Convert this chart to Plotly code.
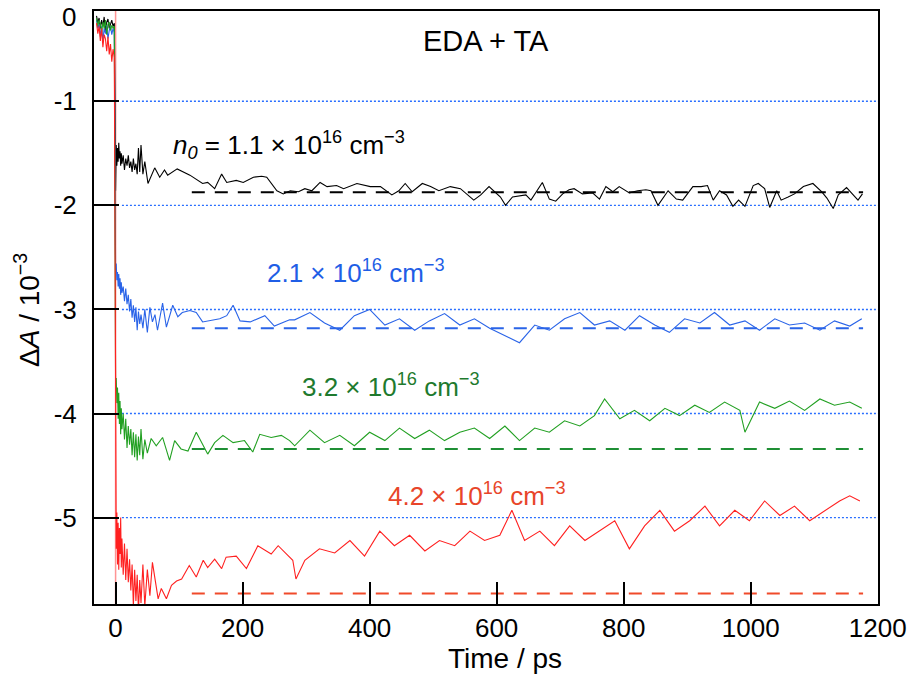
import plotly.graph_objects as go

# ---------------- data ----------------
t_pre = [-30, -28, -26, -24, -22, -20, -18, -16, -14, -12, -10, -8, -6, -4, -2]
t_dense = [0, 1, 2, 3, 4, 5, 6, 7, 8, 9, 10, 12, 14, 16, 18, 20, 22, 24, 26, 28, 30, 32, 34, 36, 38, 40, 43, 46]

black_pre = [-0.18, -0.25, -0.20, -0.30, -0.22, -0.28, -0.19, -0.33, -0.24, -0.21, -0.30, -0.26, -0.22, -0.28, -0.25]
blue_pre = [-0.22, -0.30, -0.26, -0.38, -0.28, -0.42, -0.30, -0.35, -0.27, -0.40, -0.32, -0.28, -0.36, -0.30, -0.34]
green_pre = [-0.20, -0.28, -0.22, -0.26, -0.34, -0.24, -0.30, -0.22, -0.36, -0.26, -0.24, -0.32, -0.27, -0.30, -0.28]
red_pre = [-0.25, -0.35, -0.28, -0.42, -0.30, -0.48, -0.36, -0.40, -0.52, -0.38, -0.55, -0.45, -0.62, -0.50, -0.58]

black_dense = [-1.86, -1.42, -1.62, -1.45, -1.58, -1.40, -1.55, -1.48, -1.62, -1.50, -1.60, -1.52, -1.66, -1.55,
               -1.62, -1.52, -1.64, -1.58, -1.68, -1.55, -1.66, -1.60, -1.70, -1.45, -1.68, -1.42, -1.70, -1.58]
blue_dense = [-2.62, -2.56, -2.72, -2.64, -2.78, -2.66, -2.80, -2.70, -2.86, -2.74, -2.84, -2.78, -2.92, -2.80,
              -2.95, -2.86, -3.02, -2.90, -3.08, -2.96, -3.12, -2.98, -3.20, -3.02, -3.14, -3.05, -3.18, -3.00]
green_dense = [-3.70, -3.66, -3.90, -3.75, -4.05, -3.80, -4.10, -3.88, -4.20, -3.95, -4.15, -4.00, -4.25, -4.05,
               -4.33, -4.12, -4.30, -4.15, -4.40, -4.18, -4.42, -4.20, -4.45, -4.22, -4.40, -4.15, -4.44, -4.25]
red_dense = [-4.72, -5.30, -4.95, -5.45, -5.05, -5.50, -5.10, -5.35, -5.00, -5.48, -5.20, -5.55, -5.25, -5.60,
             -5.30, -5.62, -5.40, -5.70, -5.45, -5.85, -5.50, -5.80, -5.55, -5.90, -5.60, -5.82, -5.45, -5.85]

black_t = [51, 61.6, 69.5, 77, 82, 97, 117, 137, 145, 156, 167, 175, 190, 201, 217, 230, 238, 254, 264, 275,
           288, 298, 309, 322, 333, 348, 359, 380, 401, 417, 435, 446, 456, 467, 483, 496, 509, 527, 543, 564,
           575, 588, 606, 614, 625, 638, 646, 654, 672, 683, 693, 704, 714, 722, 735, 751, 762, 772, 783, 793,
           809, 822, 835, 843, 854, 870, 883, 893, 909, 922, 932, 941, 951, 962, 972, 981, 991, 1004, 1012, 1022,
           1030, 1041, 1048, 1059, 1069, 1083, 1098, 1112, 1120, 1130, 1138, 1151, 1162, 1169, 1176]
black_v = [-1.79, -1.64, -1.73, -1.66, -1.71, -1.65, -1.71, -1.79, -1.78, -1.84, -1.70, -1.78, -1.76, -1.78, -1.73,
           -1.72, -1.73, -1.86, -1.89, -1.86, -1.87, -1.84, -1.86, -1.78, -1.82, -1.81, -1.84, -1.79, -1.82, -1.82,
           -1.90, -1.86, -1.79, -1.87, -1.79, -1.82, -1.86, -1.82, -1.84, -1.95, -1.90, -1.82, -1.92, -2.00, -1.92,
           -1.91, -1.90, -1.95, -1.78, -1.94, -1.96, -1.89, -1.85, -1.84, -1.89, -1.88, -1.94, -1.82, -1.87, -1.82,
           -1.88, -1.86, -1.85, -1.86, -2.00, -1.86, -1.94, -1.95, -1.82, -1.82, -1.81, -1.95, -1.86, -1.90, -2.01,
           -1.95, -2.01, -1.81, -1.79, -1.84, -2.02, -1.86, -1.95, -1.92, -1.89, -1.82, -1.79, -1.87, -1.93, -2.03,
           -1.90, -1.83, -1.91, -1.95, -1.89]

blue_t = [50, 54, 58, 62, 66, 74, 80, 90, 98, 105, 117, 127, 137, 164, 175, 185, 196, 212, 235, 250, 274, 282, 306,
          329, 353, 376, 400, 424, 447, 471, 494, 518, 542, 565, 589, 613, 636, 660, 683, 707, 731, 754, 778, 802,
          825, 849, 872, 896, 920, 943, 967, 991, 1014, 1038, 1061, 1085, 1109, 1132, 1156, 1175]
blue_v = [-3.22, -2.98, -3.12, -3.05, -3.20, -2.94, -3.17, -2.96, -3.07, -3.03, -3.01, -3.03, -3.12, -3.09, -3.06,
          -2.96, -3.11, -3.12, -3.06, -3.16, -3.10, -3.10, -3.03, -3.13, -3.20, -3.06, -3.00, -3.15, -3.09, -3.20,
          -3.11, -3.04, -3.15, -3.09, -3.18, -3.25, -3.32, -3.15, -3.20, -3.09, -3.03, -3.15, -3.11, -3.20, -3.06,
          -3.15, -3.22, -3.09, -3.13, -3.03, -3.15, -3.11, -3.20, -3.09, -3.15, -3.13, -3.20, -3.11, -3.16, -3.09]

green_t = [50, 56, 64, 74, 85, 93, 103, 114, 127, 145, 156, 169, 185, 203, 216, 227, 245, 261, 274, 282, 306, 329,
           353, 376, 400, 424, 447, 471, 494, 518, 542, 565, 589, 613, 636, 660, 683, 707, 731, 754, 770, 794, 817,
           841, 865, 888, 912, 935, 959, 983, 991, 1014, 1038, 1061, 1085, 1109, 1132, 1156, 1175]
green_v = [-4.38, -4.24, -4.31, -4.23, -4.45, -4.26, -4.34, -4.36, -4.18, -4.39, -4.28, -4.21, -4.28, -4.26, -4.37,
           -4.20, -4.23, -4.21, -4.26, -4.31, -4.16, -4.28, -4.21, -4.31, -4.18, -4.26, -4.14, -4.24, -4.16, -4.26,
           -4.18, -4.14, -4.24, -4.12, -4.26, -4.14, -4.18, -4.07, -4.12, -4.02, -3.86, -4.05, -3.97, -4.07, -3.95,
           -4.02, -3.92, -3.99, -3.89, -3.97, -4.18, -3.89, -3.95, -3.88, -3.97, -3.86, -3.92, -3.89, -3.95]

red_t = [50, 54, 58, 67, 72, 80, 88, 96, 104, 116, 127, 138, 145, 156, 167, 174, 190, 206, 224, 245, 256, 279, 284,
         298, 321, 345, 369, 392, 416, 439, 463, 487, 510, 534, 558, 581, 605, 624, 644, 668, 691, 715, 739, 762,
         786, 809, 833, 857, 880, 904, 928, 951, 975, 998, 1022, 1046, 1069, 1093, 1117, 1140, 1156, 1172]
red_v = [-5.50, -5.75, -5.43, -5.78, -5.68, -5.78, -5.65, -5.61, -5.59, -5.46, -5.57, -5.41, -5.48, -5.40, -5.49,
         -5.38, -5.37, -5.49, -5.27, -5.35, -5.27, -5.41, -5.59, -5.41, -5.30, -5.34, -5.22, -5.37, -5.13, -5.27,
         -5.17, -5.32, -5.22, -5.27, -5.13, -5.22, -5.17, -4.93, -5.22, -5.13, -5.27, -5.08, -5.22, -5.13, -5.03,
         -5.30, -5.08, -4.93, -5.13, -5.03, -4.89, -5.08, -4.93, -5.03, -4.84, -4.98, -4.89, -5.03, -4.93, -4.84,
         -4.79, -4.84]

baseline_levels = [-1, -2, -3, -4, -5]
baseline_start = 10
fit_levels = [-1.875, -3.18, -4.34, -5.73]
fit_start, fit_end = 120, 1177

series_names = ["1.1", "2.1", "3.2", "4.2"]
trace_colors = ["#000000", "#2a64e8", "#22a022", "#ff2020"]
fit_colors = ["#000000", "#2a64e8", "#1f8f35", "#f04a2a"]
label_colors = ["#000000", "#1f5ee6", "#1e7a2e", "#e8452a"]

x_ticks = [0, 200, 400, 600, 800, 1000, 1200]
y_top = -0.133
y_bottom = -5.83
y_tickvals = [-1, -2, -3, -4, -5]
y_ticktext = ["-1", "-2", "-3", "-4", "-5"]
x_range = [-34, 1200.5]

FONT = "Liberation Sans, Arial, Helvetica, sans-serif"

# ---------------- figure ----------------
fig = go.Figure()

for lvl in baseline_levels:
    fig.add_shape(type="line", xref="x", yref="y", x0=baseline_start, x1=x_range[1], y0=lvl, y1=lvl,
                  line=dict(color="#2a6fff", width=1.4, dash="2px,2px"), layer="below")

fig.add_shape(type="line", xref="x", yref="paper", x0=0, x1=0, y0=0, y1=1,
              line=dict(color="rgba(255,90,90,0.65)", width=1.5), layer="below")

pres = [black_pre, blue_pre, green_pre, red_pre]
denses = [black_dense, blue_dense, green_dense, red_dense]
ts = [black_t, blue_t, green_t, red_t]
vs = [black_v, blue_v, green_v, red_v]

for i in range(4):
    x = t_pre + t_dense + ts[i]
    y = pres[i] + denses[i] + vs[i]
    fig.add_trace(go.Scatter(x=x, y=y, mode="lines", line=dict(color=trace_colors[i], width=1.1),
                             showlegend=False, name=series_names[i]))
    fig.add_trace(go.Scatter(x=[fit_start, fit_end], y=[fit_levels[i], fit_levels[i]], mode="lines",
                             line=dict(color=fit_colors[i], width=2, dash="13px,10px"), showlegend=False))

fig.add_annotation(x=0.5, y=0.98, xref="paper", yref="paper", text="EDA + TA", showarrow=False,
                   xanchor="center", yanchor="top", font=dict(family=FONT, size=29, color="black"))
labels = [
    ("<i>n<sub>0</sub></i> = 1.1 × 10<sup>16</sup> cm<sup>−3</sup>", 88, -1.42),
    ("2.1 × 10<sup>16</sup> cm<sup>−3</sup>", 235, -2.64),
    ("3.2 × 10<sup>16</sup> cm<sup>−3</sup>", 290, -3.73),
    ("4.2 × 10<sup>16</sup> cm<sup>−3</sup>", 425, -4.78),
]
for i, (txt, xx, yy) in enumerate(labels):
    fig.add_annotation(x=xx, y=yy, xref="x", yref="y", text=txt, showarrow=False,
                       xanchor="left", yanchor="middle",
                       font=dict(family=FONT, size=26, color=label_colors[i]))

L, R, T, B, W, H = 94, 37, 11, 78, 915, 682
pw, ph = W - L - R, H - T - B

# "0" label at the top of the y axis
fig.add_annotation(x=0, y=1, xref="paper", yref="paper", text="0", showarrow=False,
                   xanchor="right", yanchor="top", xshift=-16, yshift=T,
                   font=dict(family=FONT, size=26, color="black"))
# axis titles (positions given in page pixels, converted to paper coordinates)
title_specs = [("Time / ps", 505, 658, 0), ("Δ<i>A</i> / 10<sup>−3</sup>", 27, 310, -90)]
for txt, px, py, ang in title_specs:
    fig.add_annotation(x=(px - L) / pw, y=(H - B - py) / ph, xref="paper", yref="paper", text=txt,
                       showarrow=False, textangle=ang, xanchor="center", yanchor="middle",
                       font=dict(family=FONT, size=28, color="black"))

axis_common = dict(showgrid=False, zeroline=False, showline=True, linecolor="black", linewidth=2,
                   mirror=True, ticks="inside", tickcolor="black", tickwidth=2, automargin=False,
                   tickfont=dict(family=FONT, size=26, color="black"))

fig.update_layout(
    width=W, height=H,
    margin=dict(l=L, r=R, t=T, b=B),
    paper_bgcolor="white", plot_bgcolor="white",
    xaxis=dict(range=x_range, tickvals=x_ticks, ticklen=22, **axis_common),
    yaxis=dict(range=[y_bottom, y_top], tickvals=y_tickvals, ticktext=y_ticktext, ticklen=25,
               ticklabelstandoff=10, **axis_common),
)

fig.write_html("out.html", config={"displayModeBar": False},
               post_script="document.body.style.margin='0';document.body.style.padding='0';")
